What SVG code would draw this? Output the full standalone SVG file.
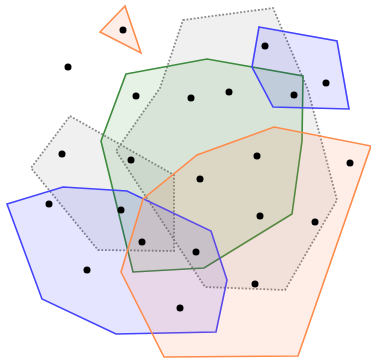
<svg xmlns="http://www.w3.org/2000/svg" width="371" height="358" viewBox="0 0 371 358">
<style>
.gray{fill:#808080;fill-opacity:0.12;stroke:#888;stroke-width:1.8;stroke-dasharray:1.8 1.8}
.green{fill:#008000;fill-opacity:0.1;stroke:#3d8b3d;stroke-width:1.6}
.blue{fill:#0000ff;fill-opacity:0.1;stroke:#4444ff;stroke-width:1.6}
.orange{fill:#ff7f50;fill-opacity:0.13;stroke:#ff8c4c;stroke-width:1.6}
.dot{fill:#000}
</style>
<rect width="371" height="358" fill="#fff"/>
<g id="regions">
<g id="gray-big"><polygon class="gray" points="183,20 273,8 308,90 337,200 285,290 205,287 116,151 160,88"/></g>
<g id="gray-left"><polygon class="gray" points="70,116 174,175 174,251 98,250 31,168"/></g>
<g id="green"><polygon class="green" points="126,74 207,59 303,76 302,141 292,214 204,268 133,272 101,141"/></g>
<g id="blue-top"><polygon class="blue" points="259,27 337,41 349,109 273,107 252,67"/></g>
<g id="blue-left"><polygon class="blue" points="7,204 63,187 127,191 211,231 227,280 216,332 116,334 42,299"/></g>
<g id="orange-tri"><polygon class="orange" points="125,6 100,32 141,53"/></g>
<g id="orange-big"><polygon class="orange" points="274,127 371,146 298,356 164,357 121,272 143,199 197,155"/></g>
</g>
<g id="points">
<circle class="dot" cx="123" cy="30" r="3.5"/>
<circle class="dot" cx="68" cy="67" r="3.5"/>
<circle class="dot" cx="136" cy="96" r="3.5"/>
<circle class="dot" cx="191" cy="98" r="3.5"/>
<circle class="dot" cx="229" cy="92" r="3.5"/>
<circle class="dot" cx="265" cy="46" r="3.5"/>
<circle class="dot" cx="326" cy="83" r="3.5"/>
<circle class="dot" cx="294" cy="95" r="3.5"/>
<circle class="dot" cx="62" cy="154" r="3.5"/>
<circle class="dot" cx="131" cy="160" r="3.5"/>
<circle class="dot" cx="257" cy="156" r="3.5"/>
<circle class="dot" cx="350" cy="163" r="3.5"/>
<circle class="dot" cx="200" cy="179" r="3.5"/>
<circle class="dot" cx="49" cy="204" r="3.5"/>
<circle class="dot" cx="121" cy="210" r="3.5"/>
<circle class="dot" cx="142" cy="242" r="3.5"/>
<circle class="dot" cx="87" cy="270" r="3.5"/>
<circle class="dot" cx="180" cy="308" r="3.5"/>
<circle class="dot" cx="260" cy="216" r="3.5"/>
<circle class="dot" cx="315" cy="222" r="3.5"/>
<circle class="dot" cx="196" cy="252" r="3.5"/>
<circle class="dot" cx="255" cy="284" r="3.5"/>
</g>
</svg>
